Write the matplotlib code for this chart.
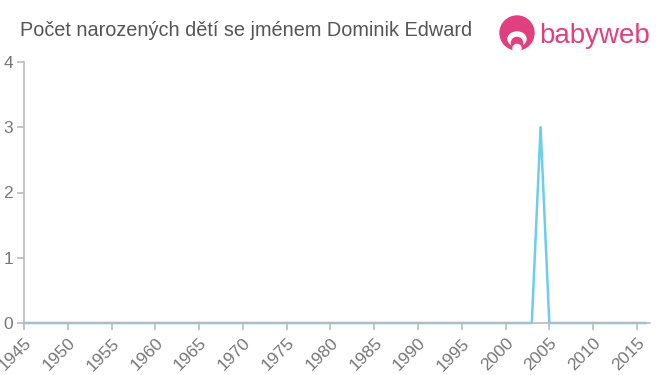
import matplotlib.pyplot as plt
from matplotlib.patches import Circle, Ellipse

years = list(range(1945, 2017))
counts = [0] * len(years)
counts[years.index(2004)] = 3

plt.rcParams['font.family'] = ['Liberation Sans', 'DejaVu Sans']

fig = plt.figure(figsize=(6.6, 3.75), dpi=100)
ax = fig.add_axes([24 / 660, 1 - 323 / 375, 626 / 660, 261 / 375])

ax.plot(years, counts, color='#6dcdf0', linewidth=1.8, clip_on=False)
ax.set_xlim(1945, 2016.5)
ax.set_ylim(0, 4)
ax.set_xticks(range(1945, 2016, 5))
ax.set_xticklabels([str(y) for y in range(1945, 2016, 5)], rotation=45,
                   ha='right', va='top', rotation_mode='anchor')
ax.set_yticks(range(0, 5))

for s in ['top', 'right']:
    ax.spines[s].set_visible(False)
for s in ['left', 'bottom']:
    ax.spines[s].set_color('#bbbbbb')
    ax.spines[s].set_linewidth(1.2)
ax.tick_params(colors='#bbbbbb', labelcolor='#777777', labelsize=12.5, length=5, width=1.2)
ax.tick_params(axis='x', pad=4)
ax.tick_params(axis='y', pad=3)

fig.text(20 / 660, 1 - 30 / 375, 'Počet narozených dětí se jménem Dominik Edward',
         fontsize=14.3, color='#555555', va='center', ha='left')

# logo
pink = '#e0407f'
lax = fig.add_axes([497 / 660, 1 - 54 / 375, 40 / 660, 40 / 375])
lax.set_xlim(-1, 1)
lax.set_ylim(-1, 1)
lax.set_aspect('equal')
lax.axis('off')
lax.add_patch(Circle((0, 0.05), 0.85, color=pink))
lax.add_patch(Ellipse((0, -0.25), 0.9, 0.7, color='white'))
lax.add_patch(Circle((0, -0.45), 0.28, color=pink))
lax.add_patch(Circle((0, -0.72), 0.2, color='white'))
fig.text(539 / 660, 1 - 36 / 375, 'babyweb', fontsize=20, color=pink,
         va='center', ha='left')

fig.savefig('out.png')
